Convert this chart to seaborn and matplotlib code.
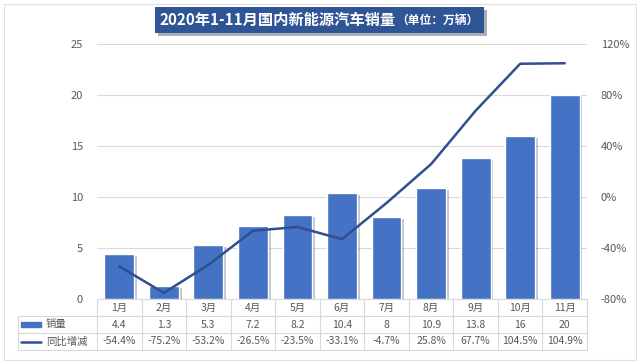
import numpy as np
import seaborn as sns
import matplotlib.pyplot as plt
import matplotlib.patheffects as pe
from matplotlib.patches import Rectangle

# 数据
months = ["1月", "2月", "3月", "4月", "5月", "6月", "7月", "8月", "9月", "10月", "11月"]
sales = [4.4, 1.3, 5.3, 7.2, 8.2, 10.4, 8, 10.9, 13.8, 16, 20]
sales_labels = ["4.4", "1.3", "5.3", "7.2", "8.2", "10.4", "8", "10.9", "13.8", "16", "20"]
yoy = [-54.4, -75.2, -53.2, -26.5, -23.5, -33.1, -4.7, 25.8, 67.7, 104.5, 104.9]
left_ticks = [0, 5, 10, 15, 20, 25]
right_ticks = [-80, -40, 0, 40, 80, 120]

bar_color = "#4472C4"
line_color = "#2F4F8F"
text_color = "#595959"
grid_color = "#D9D9D9"

sns.set_style("white")
plt.rcParams["font.family"] = ["Noto Sans CJK SC", "DejaVu Sans"]

fig = plt.figure(figsize=(6.4, 3.64), dpi=100)
ax = fig.add_axes([97 / 640, 1 - 299 / 364, 490 / 640, 255 / 364])

# 柱状图
pos = np.arange(len(months))
sns.barplot(x=pos, y=sales, color=bar_color, width=0.67, saturation=1, ax=ax, zorder=3)
for p in ax.patches:
    p.set_path_effects([pe.SimplePatchShadow(offset=(2, -1.5), alpha=0.25), pe.Normal()])
ax.set_ylim(0, 25)
ax.set_xlim(-0.5, len(months) - 0.5)
ax.set_yticks(left_ticks)
ax.set_yticklabels([str(t) for t in left_ticks], color=text_color, fontsize=8)
ax.set_xticks([])
ax.grid(axis="y", color=grid_color, linewidth=0.8, zorder=0)
ax.tick_params(axis="y", length=0, pad=10)
for s in ax.spines.values():
    s.set_visible(False)

# 折线图（同比，右轴）
ax2 = ax.twinx()
sns.lineplot(x=pos, y=yoy, color=line_color, linewidth=1.8, ax=ax2, zorder=4)
ax2.set_ylim(-80, 120)
ax2.set_yticks(right_ticks)
ax2.set_yticklabels([f"{t}%" for t in right_ticks], color=text_color, fontsize=8)
ax2.tick_params(axis="y", length=0, pad=10)
ax2.set_xlim(-0.5, len(months) - 0.5)
ax2.set_xticks([])
for s in ax2.spines.values():
    s.set_visible(False)

# 数据表
tr = ax.get_xaxis_transform()
h = 255
row_y = [0, -17 / h, -34 / h, -51 / h]
kw = dict(transform=tr, clip_on=False, color=grid_color, linewidth=0.8)
ax.plot([-0.5, len(months) - 0.5], [row_y[0]] * 2, **kw)
x_left = -0.5 - (97 - 18) / 490 * len(months)
for y in row_y[1:]:
    ax.plot([x_left, len(months) - 0.5], [y, y], **kw)
for b in np.arange(len(months) + 1) - 0.5:
    ax.plot([b, b], [row_y[0], row_y[3]], **kw)
ax.plot([x_left, x_left], [row_y[1], row_y[3]], **kw)

tkw = dict(transform=tr, ha="center", va="center", color=text_color, fontsize=7.5, clip_on=False)
for i in range(len(months)):
    ax.text(i, (row_y[0] + row_y[1]) / 2, months[i], **tkw)
    ax.text(i, (row_y[1] + row_y[2]) / 2, sales_labels[i], **tkw)
    ax.text(i, (row_y[2] + row_y[3]) / 2, f"{yoy[i]}%", **tkw)

# 图例
fig.patches.append(Rectangle((21 / 640, 1 - 327 / 364), 20 / 640, 5 / 364,
                             transform=fig.transFigure, color=bar_color))
fig.lines.append(plt.Line2D([21 / 640, 41 / 640], [1 - 342 / 364] * 2,
                            transform=fig.transFigure, color=line_color, linewidth=1.8))
fig.text(46 / 640, 1 - 324 / 364, "销量", color=text_color, fontsize=7.5, va="center")
fig.text(46 / 640, 1 - 342 / 364, "同比增减", color=text_color, fontsize=7.5, va="center")

# 标题
title_box = Rectangle((155 / 640, 1 - 33 / 364), 329 / 640, 26 / 364,
                      transform=fig.transFigure, fc="#2F5597", ec="none")
title_box.set_path_effects([pe.SimplePatchShadow(offset=(2.5, -2.5), alpha=0.35), pe.Normal()])
fig.patches.append(title_box)
main_title = fig.text(160 / 640, 1 - 20 / 364, "2020年1-11月国内新能源汽车销量", color="white",
                      fontsize=11, fontweight="bold", ha="left", va="center")
fig.add_artist(plt.Annotation("（单位：万辆）", xy=(1, 0.5), xycoords=main_title,
                              ha="left", va="center", color="white", fontsize=8.5,
                              fontweight="bold"))

# 外框
fig.patches.append(Rectangle((4 / 640, 4 / 364), 632 / 640, 356 / 364, transform=fig.transFigure,
                             fill=False, ec="#E0E0E0", linewidth=0.8))

fig.savefig("out.png", dpi=100)
